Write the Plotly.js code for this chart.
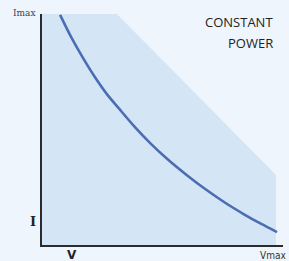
<!DOCTYPE html>
<html><head><meta charset="utf-8">
<script src="https://cdn.plot.ly/plotly-3.0.1.min.js"></script>
<style>html,body{margin:0;padding:0;background:#eef5fc;}#chart{width:289px;height:261px;}</style>
</head><body><div id="chart"></div>
<script>
// Constant power curve (V vs I) (axes 0..100)
const curveV = [7.5, 12, 17, 22, 27, 32, 38, 45, 52, 60, 68, 76, 84, 91, 97.5];
const curveI = [99.6, 90.2, 81.0, 72.6, 65.2, 59.0, 51.7, 44.0, 37.2, 30.3, 24.0, 18.3, 13.2, 9.1, 5.6];
// Operating region outline
const regionV = [0, 0, 31.1, 97.1, 97.1, 0];
const regionI = [0, 100, 100, 30.3, 0, 0];
const annoText = ["Imax", "I", "V", "Vmax", "CONSTANT", "POWER"];

const traces = [
  {x: regionV, y: regionI, type: 'scatter', mode: 'lines', fill: 'toself',
   fillcolor: '#d4e6f6', line: {width: 0}, hoverinfo: 'skip'},
  {x: curveV, y: curveI, type: 'scatter', mode: 'lines', line: {color: '#4b6db3', width: 2.6, shape: 'spline', smoothing: 0.8}}
];
const layout = {
  width: 289, height: 261, showlegend: false,
  paper_bgcolor: '#eef5fc', plot_bgcolor: 'rgba(0,0,0,0)',
  margin: {l: 42, r: 6, t: 14, b: 16},
  xaxis: {range: [0, 100], showgrid: false, zeroline: false, showticklabels: false, ticks: '',
          showline: true, linecolor: '#2b2b2b', linewidth: 2},
  yaxis: {range: [0, 100], showgrid: false, zeroline: false, showticklabels: false, ticks: '',
          showline: true, linecolor: '#2b2b2b', linewidth: 2},
  annotations: [
    {text: annoText[0], xref: 'paper', yref: 'paper', x: -0.015, y: 1.005, xanchor: 'right', yanchor: 'middle', showarrow: false,
     font: {family: 'DejaVu Serif Condensed, DejaVu Serif', size: 10, color: '#444'}},
    {text: annoText[1], xref: 'paper', yref: 'paper', x: -0.015, y: 0.1, xanchor: 'right', yanchor: 'middle', showarrow: false,
     font: {family: 'DejaVu Serif', size: 13, color: '#222', weight: 'bold'}},
    {text: annoText[2], xref: 'paper', yref: 'paper', x: 0.124, y: -0.005, xanchor: 'center', yanchor: 'top', showarrow: false,
     font: {family: 'DejaVu Sans', size: 12, color: '#222', weight: 'bold'}},
    {text: annoText[3], xref: 'paper', yref: 'paper', x: 1.02, y: -0.015, xanchor: 'right', yanchor: 'top', showarrow: false,
     font: {family: 'DejaVu Sans Condensed', size: 10, color: '#333'}},
    {text: annoText[4], xref: 'paper', yref: 'paper', x: 0.965, y: 0.965, xanchor: 'right', yanchor: 'middle', showarrow: false,
     font: {family: 'Open Sans', size: 13, color: '#222'}},
    {text: annoText[5], xref: 'paper', yref: 'paper', x: 0.965, y: 0.873, xanchor: 'right', yanchor: 'middle', showarrow: false,
     font: {family: 'Open Sans', size: 13, color: '#222'}}
  ]
};
Plotly.newPlot('chart', traces, layout, {staticPlot: true, displayModeBar: false});
</script></body></html>
